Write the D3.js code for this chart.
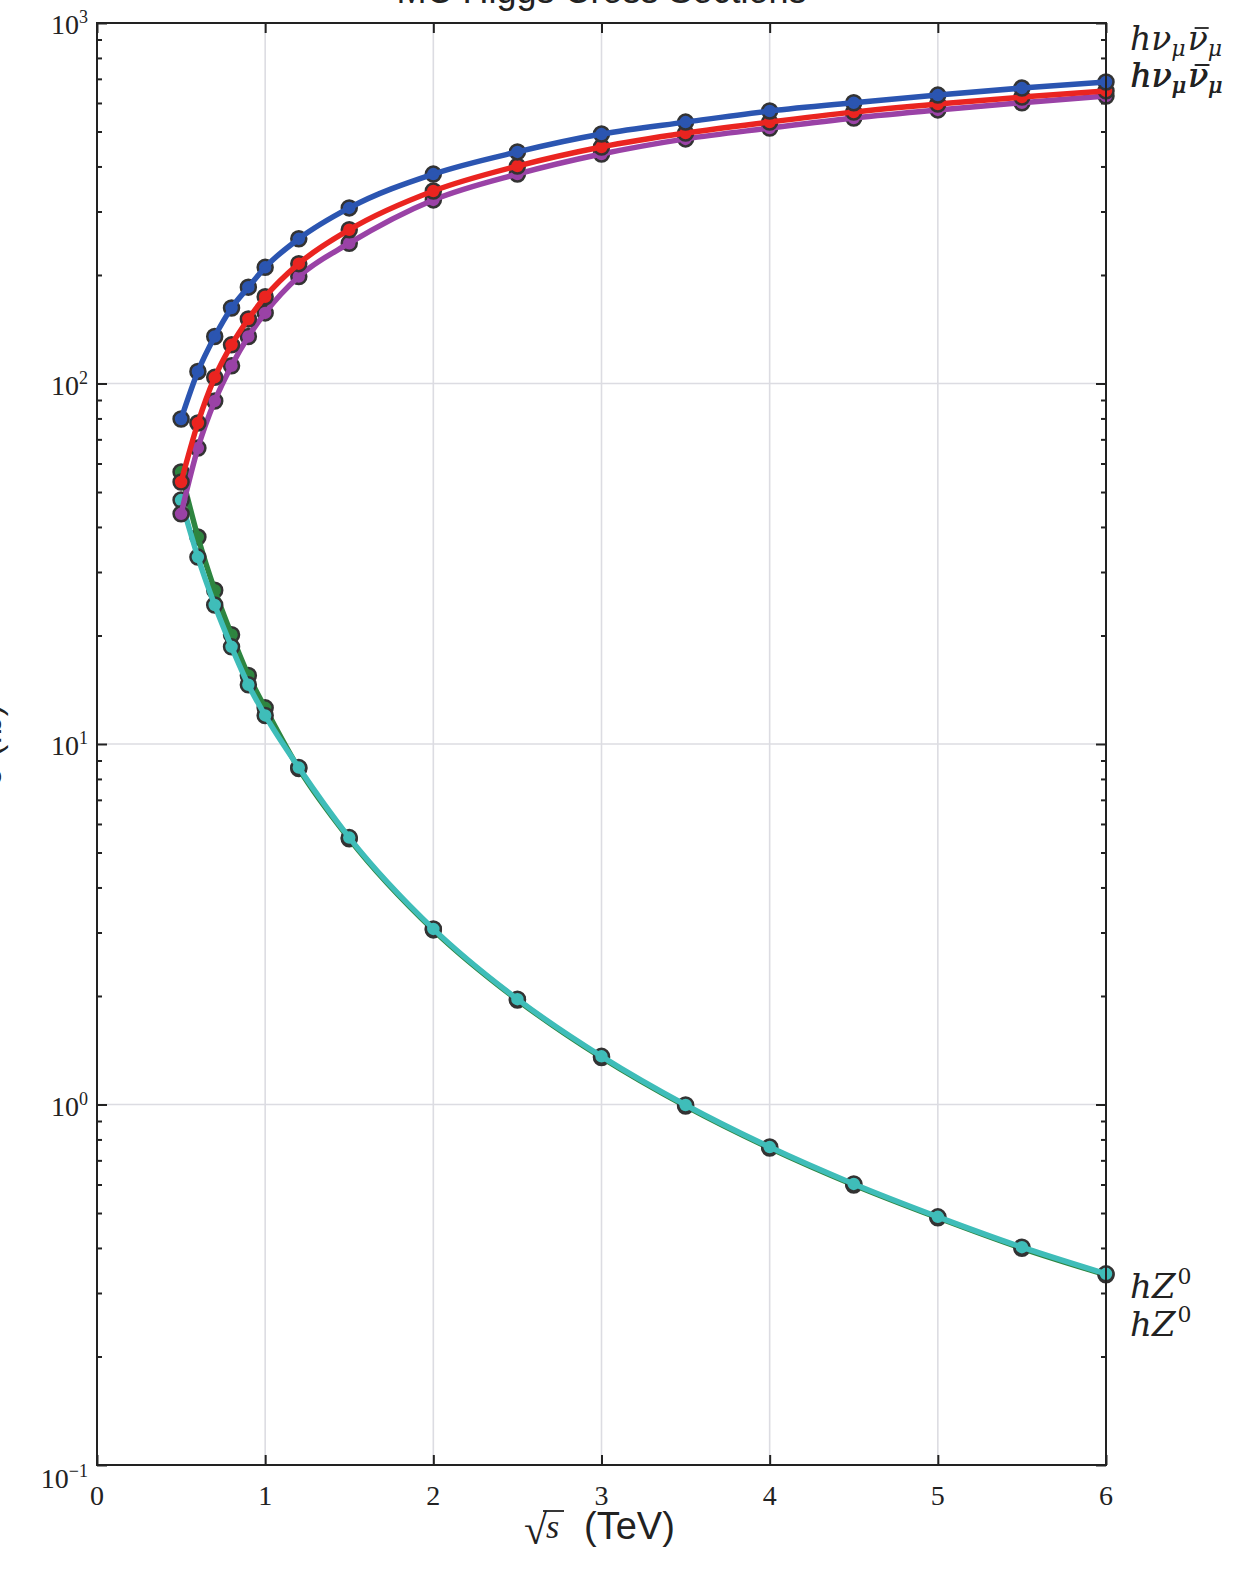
<!DOCTYPE html>
<html>
<head>
<meta charset="utf-8">
<script src="https://cdn.jsdelivr.net/npm/d3@7/dist/d3.min.js"></script>
<style>
  body { margin: 0; background: #fff; }
  svg { display: block; }
</style>
</head>
<body>
<svg id="chart" width="1258" height="1577"></svg>
<script>
// MC Higgs cross sections vs sqrt(s)

const sqrtS = [0.5, 0.6, 0.7, 0.8, 0.9, 1.0, 1.2, 1.5, 2.0, 2.5, 3.0, 3.5, 4.0, 4.5, 5.0, 5.5, 6.0];

const xsecBlue   = [79.7, 108, 135, 162, 185, 210, 252, 307, 381, 439, 492, 531, 570, 601, 631, 660, 686];
const xsecRed    = [53.3, 77.7, 104, 128, 151, 174, 215, 267, 342, 401, 453, 495, 531, 566, 596, 623, 648];
const xsecPurple = [43.5, 66.2, 89.4, 112, 135, 157, 198, 245, 323, 381, 433, 477, 511, 545, 574, 601, 627];
const xsecGreen  = [56.8, 37.5, 26.7, 20.1, 15.5, 12.6, 8.55, 5.46, 3.05, 1.95, 1.35, 0.99, 0.757, 0.598, 0.485, 0.399, 0.337];
const xsecCyan   = [47.5, 33.0, 24.3, 18.6, 14.6, 12.0, 8.6, 5.5, 3.07, 1.96, 1.36, 0.997, 0.762, 0.602, 0.488, 0.402, 0.339];

const xTicks = [0, 1, 2, 3, 4, 5, 6];
const yExponents = [-1, 0, 1, 2, 3];

const series = [
  { name: 'green',  values: xsecGreen,  color: '#2e8540' },
  { name: 'cyan',   values: xsecCyan,   color: '#3fbdb9' },
  { name: 'purple', values: xsecPurple, color: '#9a42a6' },
  { name: 'red',    values: xsecRed,    color: '#ea2420' },
  { name: 'blue',   values: xsecBlue,   color: '#2b55b1' }
];

const W = 1258, H = 1577;
const m = { top: 23, right: 152, bottom: 112, left: 97 };
const iw = W - m.left - m.right, ih = H - m.top - m.bottom;

const svg = d3.select('#chart');
const g = svg.append('g').attr('transform', `translate(${m.left},${m.top})`);

const x = d3.scaleLinear().domain([0, 6]).range([0, iw]);
const y = d3.scaleLog().domain([0.1, 1000]).range([ih, 0]);

const serif = '"Liberation Serif", "DejaVu Serif", serif';
const mathFont = '"DejaVu Serif", serif';
const sans = '"Liberation Sans", Arial, sans-serif';

// --- Grid ---
g.append('g').selectAll('line').data(xTicks.slice(1, -1)).join('line')
  .attr('x1', d => x(d)).attr('x2', d => x(d)).attr('y1', 0).attr('y2', ih)
  .attr('stroke', '#dcdce2').attr('stroke-width', 1.6);
g.append('g').selectAll('line').data(yExponents.slice(1, -1)).join('line')
  .attr('y1', d => y(Math.pow(10, d))).attr('y2', d => y(Math.pow(10, d)))
  .attr('x1', 0).attr('x2', iw)
  .attr('stroke', '#dcdce2').attr('stroke-width', 1.6);

// --- Ticks (inward, mirrored) ---
const minorVals = [];
yExponents.slice(0, -1).forEach(e => { for (let k = 2; k <= 9; k++) minorVals.push(k * Math.pow(10, e)); });
const majorVals = yExponents.map(e => Math.pow(10, e));

[
  [d3.axisLeft(y).tickValues(majorVals).tickSize(-10), 0, 0],
  [d3.axisLeft(y).tickValues(minorVals).tickSize(-5), 0, 0],
  [d3.axisRight(y).tickValues(majorVals).tickSize(-10), iw, 0],
  [d3.axisRight(y).tickValues(minorVals).tickSize(-5), iw, 0],
  [d3.axisBottom(x).tickValues(xTicks).tickSize(-10), 0, ih],
  [d3.axisTop(x).tickValues(xTicks).tickSize(-10), 0, 0]
].forEach(([ax, tx, ty]) => {
  const a = g.append('g').attr('transform', `translate(${tx},${ty})`).call(ax.tickFormat(''));
  a.select('.domain').remove();
  a.selectAll('line').attr('stroke', '#222').attr('stroke-width', 2);
});

// --- Series: markers, then line on top ---
const line = d3.line()
  .x((d, i) => x(sqrtS[i]))
  .y(d => y(d))
  .curve(d3.curveMonotoneX);

series.forEach(s => {
  const sg = g.append('g').attr('class', 'series-' + s.name);
  sg.selectAll('circle').data(s.values).join('circle')
    .attr('cx', (d, i) => x(sqrtS[i]))
    .attr('cy', d => y(d))
    .attr('r', 7.5)
    .attr('fill', s.color)
    .attr('stroke', '#333')
    .attr('stroke-width', 2.5);
  sg.append('path').datum(s.values)
    .attr('d', line)
    .attr('fill', 'none')
    .attr('stroke', s.color)
    .attr('stroke-width', 5.5)
    .attr('stroke-linejoin', 'round');
});

// --- Frame ---
g.append('rect').attr('width', iw).attr('height', ih)
  .attr('fill', 'none').attr('stroke', '#222').attr('stroke-width', 2);

// --- Tick labels ---
xTicks.forEach(t => {
  svg.append('text')
    .attr('x', m.left + x(t)).attr('y', m.top + ih + 40)
    .attr('text-anchor', 'middle')
    .attr('font-family', serif).attr('font-size', 28).attr('fill', '#222')
    .text(t);
});

yExponents.forEach(e => {
  const t = svg.append('text')
    .attr('x', 88).attr('y', m.top + y(Math.pow(10, e)) + (e < 0 ? 23 : 11))
    .attr('text-anchor', 'end')
    .attr('font-family', serif).attr('font-size', 28).attr('fill', '#222');
  t.append('tspan').text('10');
  t.append('tspan').attr('font-size', 18).attr('dy', -11).text(e < 0 ? '\u2212' + Math.abs(e) : e);
});

// --- Title (partly off the top edge) ---
svg.append('text')
  .attr('x', m.left + iw / 2).attr('y', 3)
  .attr('text-anchor', 'middle')
  .attr('font-family', sans).attr('font-size', 36).attr('fill', '#222')
  .text('MC Higgs Cross Sections');

// --- Y label (almost entirely off the left edge) ---
svg.append('text')
  .attr('transform', 'translate(1,705) rotate(-90)')
  .attr('text-anchor', 'end')
  .attr('font-family', sans).attr('font-size', 34).attr('fill', '#222')
  .text('\u03c3 (fb)');

// --- X label: sqrt(s) (TeV) ---
svg.append('text').attr('x', 524).attr('y', 1544)
  .attr('font-family', serif).attr('font-size', 42).attr('fill', '#222').text('\u221a');
svg.append('text').attr('x', 546).attr('y', 1538)
  .attr('font-family', serif).attr('font-style', 'italic').attr('font-size', 34).attr('fill', '#222').text('s');
svg.append('line')
  .attr('x1', 543).attr('x2', 564).attr('y1', 1511).attr('y2', 1511)
  .attr('stroke', '#222').attr('stroke-width', 1.8);
svg.append('text').attr('x', 584).attr('y', 1539)
  .attr('font-family', sans).attr('font-size', 38).attr('fill', '#222').text('(TeV)');

// --- Right-side labels ---
function nuLabel(yb, dx) {
  const t = svg.append('text')
    .attr('x', 1130 + dx).attr('y', yb)
    .attr('font-family', mathFont).attr('font-style', 'italic')
    .attr('font-size', 33).attr('fill', '#222');
  t.append('tspan').text('h\u03bd');
  t.append('tspan').attr('font-size', 22).attr('dy', 6).text('\u03bc');
  t.append('tspan').attr('dy', -6).attr('dx', 2).text('\u03bd');
  t.append('tspan').attr('font-size', 22).attr('dy', 6).text('\u03bc');
  const n = t.node();
  const x0 = n.getStartPositionOfChar(3).x, x1 = n.getEndPositionOfChar(3).x;
  svg.append('line')
    .attr('x1', x0 + 7).attr('x2', x1 + 1)
    .attr('y1', yb - 22).attr('y2', yb - 22)
    .attr('stroke', '#222').attr('stroke-width', 1.8);
}
nuLabel(50, 0);
nuLabel(87, 0);
nuLabel(87, 0.8);

function zLabel(yb) {
  const t = svg.append('text')
    .attr('x', 1130).attr('y', yb)
    .attr('font-family', mathFont).attr('font-style', 'italic')
    .attr('font-size', 34).attr('fill', '#222');
  t.append('tspan').text('hZ');
  t.append('tspan').attr('font-style', 'normal').attr('font-size', 22).attr('dy', -14).attr('dx', 2).text('0');
}
zLabel(1298);
zLabel(1336);
</script>
</body>
</html>
